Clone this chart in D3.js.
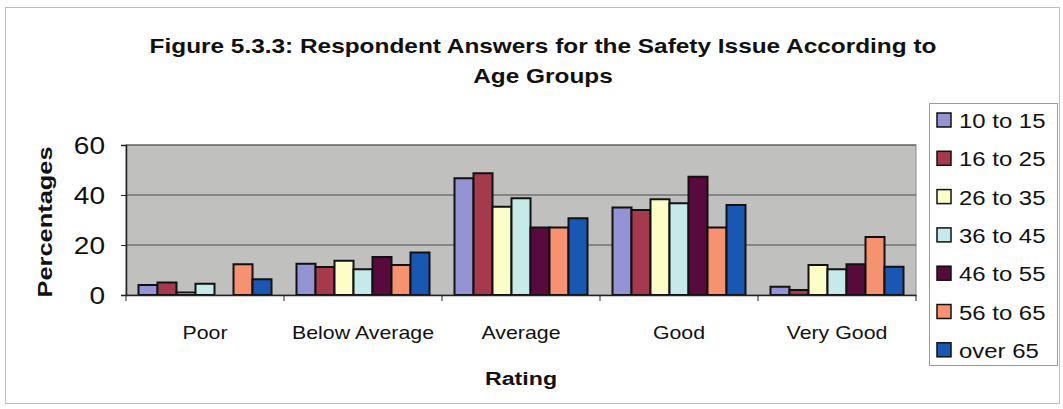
<!DOCTYPE html>
<html>
<head>
<meta charset="utf-8">
<script src="https://cdn.jsdelivr.net/npm/d3@7"></script>
<style>
  html, body { margin: 0; padding: 0; background: #fff; }
  svg { display: block; font-family: "Liberation Sans", Arial, sans-serif; }
</style>
</head>
<body>
<svg id="chart" width="1063" height="409"></svg>
<script>
// Ratings on the x axis
const categories = ["Poor", "Below Average", "Average", "Good", "Very Good"];
// Age groups (series)
const ageGroups = ["10 to 15", "16 to 25", "26 to 35", "36 to 45", "46 to 55", "56 to 65", "over 65"];
// Percentages per age group, in rating order
const age10to15 = [4, 12.5, 46.7, 35, 3.3];
const age16to25 = [5, 11.2, 48.7, 34, 2];
const age26to35 = [1, 13.7, 35.3, 38.3, 12];
const age36to45 = [4.5, 10.3, 38.7, 36.7, 10.3];
const age46to55 = [0, 15.2, 27, 47.3, 12.3];
const age56to65 = [12.3, 12, 27, 27, 23.2];
const ageOver65 = [6.3, 17, 30.7, 36, 11.3];
const yTicks = [0, 20, 40, 60];

const seriesValues = [age10to15, age16to25, age26to35, age36to45, age46to55, age56to65, ageOver65];
const colors = ["#9494d4", "#a53a4c", "#fdfdc8", "#c6eaea", "#580a3c", "#f79270", "#1858b4"];

// the chart's typeface is set wide; text is stretched along its run
const WIDE = 1.22;

const svg = d3.select("#chart");

// outer chart frame
svg.append("rect")
  .attr("x", 5.5).attr("y", 7.5).attr("width", 1054).attr("height", 396)
  .attr("fill", "#fff").attr("stroke", "#bdbdbd").attr("stroke-width", 1);

const plot = { left: 126, right: 916, top: 145, bottom: 295 };

const x0 = d3.scaleBand().domain(categories).range([plot.left, plot.right]).paddingInner(0).paddingOuter(0);
const x1 = d3.scaleBand().domain(ageGroups).range([12.5, x0.bandwidth() - 12.5]).padding(0);
const y = d3.scaleLinear().domain([0, 60]).range([plot.bottom, plot.top]);

// plot area background
svg.append("rect")
  .attr("x", plot.left).attr("y", plot.top)
  .attr("width", plot.right - plot.left).attr("height", plot.bottom - plot.top)
  .attr("fill", "#c0c0be").attr("stroke", "#8a8a8a").attr("stroke-width", 1);

// gridlines
svg.append("g").selectAll("line")
  .data(yTicks.filter(t => t > 0))
  .join("line")
  .attr("x1", plot.left).attr("x2", plot.right)
  .attr("y1", d => y(d)).attr("y2", d => y(d))
  .attr("stroke", "#4a4a4a").attr("stroke-width", 1);

// bars
const groups = svg.append("g").selectAll("g")
  .data(categories)
  .join("g")
  .attr("transform", d => `translate(${x0(d)},0)`);

groups.selectAll("rect")
  .data((c, ci) => ageGroups.map((a, si) => ({ a, si, v: seriesValues[si][ci] })))
  .join("rect")
  .filter(d => d.v > 0)
  .attr("x", d => x1(d.a))
  .attr("y", d => y(d.v))
  .attr("width", x1.bandwidth())
  .attr("height", d => y(0) - y(d.v))
  .attr("fill", d => colors[d.si])
  .attr("stroke", "#111")
  .attr("stroke-width", 2);

// y axis
const yAxis = svg.append("g")
  .attr("transform", `translate(${plot.left},0)`)
  .call(d3.axisLeft(y).tickValues(yTicks).tickSize(5).tickPadding(17));
yAxis.select(".domain").attr("stroke", "#222").attr("stroke-width", 1.5);
yAxis.selectAll(".tick line").attr("stroke", "#222");
yAxis.selectAll(".tick text")
  .attr("x", null).attr("dy", null)
  .attr("transform", `translate(-21,8) scale(${WIDE},1)`)
  .attr("font-size", 23).attr("fill", "#111")
  .attr("font-family", "Liberation Sans, Arial, sans-serif");

// x axis
const xAxis = svg.append("g")
  .attr("transform", `translate(0,${plot.bottom})`)
  .call(d3.axisBottom(x0).tickSize(0).tickPadding(30));
xAxis.select(".domain").attr("stroke", "#222").attr("stroke-width", 1.5);
xAxis.selectAll(".tick text")
  .attr("y", null).attr("dy", null)
  .attr("transform", `translate(0,44) scale(${WIDE},1)`)
  .attr("font-size", 17.5).attr("fill", "#111")
  .attr("font-family", "Liberation Sans, Arial, sans-serif");

// category separators on the x axis
svg.append("g").selectAll("line")
  .data(d3.range(categories.length + 1))
  .join("line")
  .attr("x1", i => plot.left + i * x0.bandwidth())
  .attr("x2", i => plot.left + i * x0.bandwidth())
  .attr("y1", plot.bottom).attr("y2", plot.bottom + 6)
  .attr("stroke", "#222");

// title
const titleLines = ["Figure 5.3.3: Respondent Answers for the Safety Issue According to", "Age Groups"];
svg.append("g").selectAll("text")
  .data(titleLines)
  .join("text")
  .attr("transform", (d, i) => `translate(543,${53 + i * 30}) scale(${WIDE},1)`)
  .attr("text-anchor", "middle")
  .attr("font-size", 20).attr("font-weight", "bold").attr("fill", "#111")
  .text(d => d);

// axis titles
svg.append("text")
  .attr("transform", `translate(52,222) rotate(-90) scale(${WIDE + 0.05},1)`)
  .attr("text-anchor", "middle")
  .attr("font-size", 20).attr("font-weight", "bold").attr("fill", "#111")
  .text("Percentages");

svg.append("text")
  .attr("transform", `translate(521,385) scale(${WIDE},1)`)
  .attr("text-anchor", "middle")
  .attr("font-size", 19).attr("font-weight", "bold").attr("fill", "#111")
  .text("Rating");

// legend
const legend = svg.append("g");
legend.append("rect")
  .attr("x", 929.5).attr("y", 103.5).attr("width", 128).attr("height", 262)
  .attr("fill", "#fff").attr("stroke", "#9a9a9a").attr("stroke-width", 1);

const items = legend.selectAll("g.item")
  .data(ageGroups)
  .join("g")
  .attr("class", "item")
  .attr("transform", (d, i) => `translate(937,${128 + i * 38.3})`);

items.append("rect")
  .attr("x", 0).attr("y", -15).attr("width", 14).attr("height", 14)
  .attr("fill", (d, i) => colors[i])
  .attr("stroke", "#111").attr("stroke-width", 1.5);

items.append("text")
  .attr("transform", "translate(22,0) scale(1.14,1)")
  .attr("font-size", 21).attr("fill", "#111")
  .text(d => d);
</script>
</body>
</html>
